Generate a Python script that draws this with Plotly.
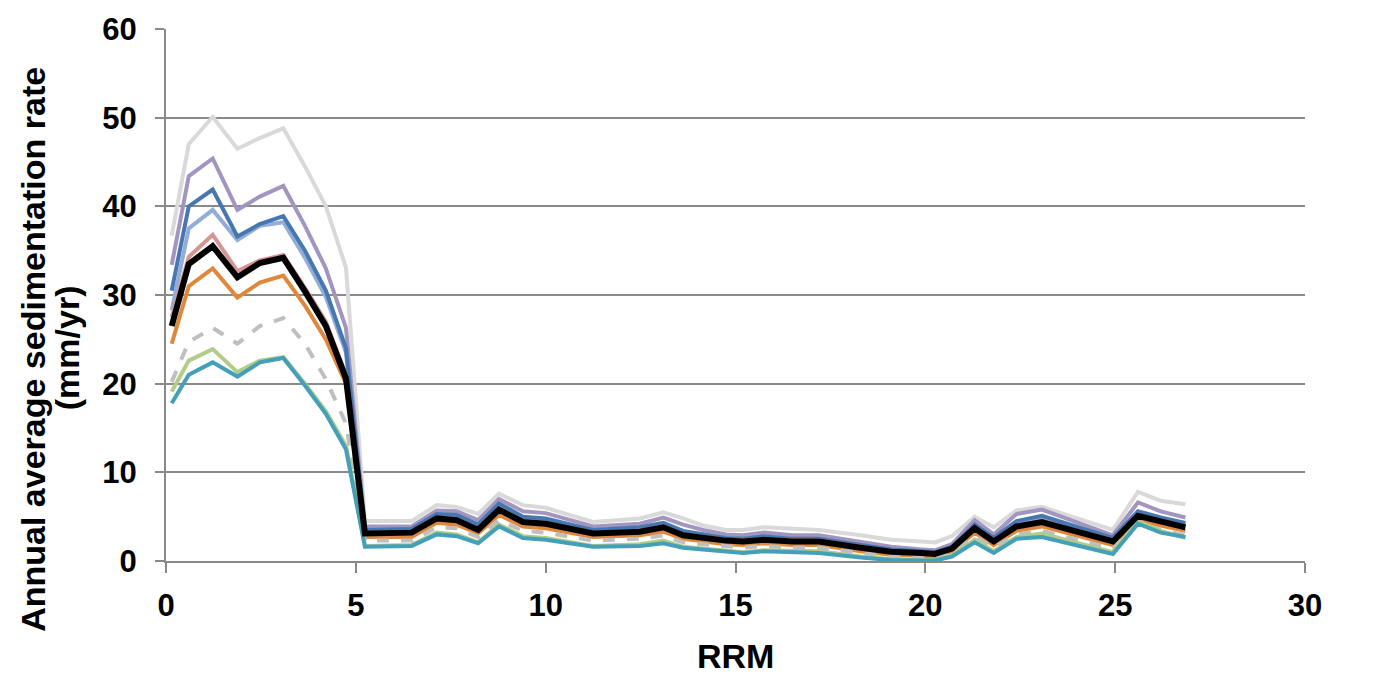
import plotly.graph_objects as go

# River mile (RRM) stations
rrm = [0.15, 0.6, 1.23, 1.88, 2.47, 3.09, 3.66, 4.21, 4.74, 5.24,
       6.47, 7.13, 7.66, 8.22, 8.77, 9.4, 10.0, 11.25, 12.48, 13.1,
       13.62, 14.15, 14.75, 15.2, 15.75, 16.5, 17.2, 18.3, 19.1, 19.9,
       20.25, 20.7, 21.3, 21.8, 22.4, 23.07, 24.94, 25.6, 26.2, 26.85]

# Annual average sedimentation rate (mm/yr) per scenario
rate_gray = [36.7, 47.0, 50.1, 46.5, 47.7, 48.8, 44.5, 40.0, 33.1, 4.5,
             4.5, 6.3, 6.1, 5.3, 7.6, 6.3, 6.0, 4.4, 4.8, 5.5,
             4.8, 4.0, 3.5, 3.5, 3.8, 3.6, 3.5, 2.9, 2.4, 2.2,
             2.1, 2.8, 5.0, 3.8, 5.7, 6.1, 3.5, 7.8, 6.8, 6.4]
rate_purple = [33.4, 43.4, 45.4, 39.6, 41.1, 42.3, 37.8, 33.0, 26.3, 3.9,
               3.9, 5.7, 5.6, 4.6, 7.0, 5.6, 5.4, 3.9, 4.2, 4.9,
               4.1, 3.5, 3.0, 2.9, 3.2, 2.9, 2.9, 2.2, 1.6, 1.3,
               1.2, 1.9, 4.6, 3.0, 5.3, 5.8, 2.9, 6.6, 5.6, 4.9]
rate_lightblue = [28.3, 37.5, 39.6, 36.2, 37.8, 38.2, 34.2, 29.8, 23.5, 3.4,
                  3.5, 5.2, 5.0, 4.0, 6.3, 4.9, 4.7, 3.4, 3.6, 4.2,
                  3.3, 2.9, 2.5, 2.4, 2.7, 2.4, 2.4, 1.7, 1.2, 1.0,
                  0.9, 1.5, 4.0, 2.5, 4.3, 4.9, 2.5, 5.4, 4.7, 4.1]
rate_blue = [30.5, 40.0, 41.9, 36.6, 38.0, 38.9, 35.0, 30.5, 24.0, 3.5,
             3.6, 5.3, 5.2, 4.1, 6.5, 5.0, 4.8, 3.5, 3.8, 4.3,
             3.4, 3.0, 2.6, 2.5, 2.8, 2.5, 2.5, 1.8, 1.3, 1.1,
             1.0, 1.6, 4.1, 2.6, 4.5, 5.1, 2.6, 5.6, 4.9, 4.3]
rate_pink = [27.5, 34.3, 36.8, 32.7, 33.9, 34.5, 30.8, 27.0, 21.0, 3.2,
             3.3, 4.9, 4.7, 3.6, 5.9, 4.5, 4.3, 3.2, 3.4, 3.9,
             3.0, 2.7, 2.4, 2.3, 2.5, 2.3, 2.3, 1.6, 1.1, 0.9,
             0.8, 1.4, 3.8, 2.3, 4.0, 4.5, 2.3, 5.2, 4.5, 3.9]
rate_orange = [24.5, 31.0, 33.0, 29.7, 31.4, 32.2, 28.8, 25.0, 20.0, 2.7,
               2.7, 4.3, 4.1, 3.1, 5.2, 3.9, 3.7, 2.7, 2.9, 3.3,
               2.5, 2.2, 1.9, 1.8, 2.0, 1.8, 1.8, 1.1, 0.7, 0.6,
               0.5, 1.1, 3.2, 1.8, 3.4, 3.9, 1.8, 4.7, 4.0, 3.4]
rate_dashed = [20.2, 24.7, 26.3, 24.5, 26.5, 27.4, 24.5, 20.5, 15.5, 2.3,
               2.3, 3.8, 3.7, 2.7, 4.6, 3.4, 3.2, 2.3, 2.5, 2.9,
               2.1, 1.9, 1.6, 1.5, 1.7, 1.5, 1.5, 0.9, 0.5, 0.4,
               0.3, 0.9, 2.8, 1.5, 3.0, 3.4, 1.4, 4.3, 3.5, 2.9]
rate_green = [19.1, 22.6, 23.9, 21.3, 22.6, 23.0, 20.0, 16.9, 13.0, 1.7,
              1.8, 3.2, 3.0, 2.1, 4.1, 2.8, 2.6, 1.7, 1.9, 2.3,
              1.6, 1.4, 1.1, 1.0, 1.2, 1.1, 1.1, 0.5, 0.2, 0.1,
              0.1, 0.6, 2.4, 1.1, 2.7, 3.1, 1.0, 4.5, 3.4, 2.6]
rate_teal = [17.8, 21.0, 22.4, 20.8, 22.4, 22.9, 19.8, 16.6, 12.6, 1.6,
             1.7, 3.0, 2.8, 2.0, 3.9, 2.6, 2.4, 1.6, 1.7, 2.0,
             1.5, 1.3, 1.0, 0.9, 1.1, 1.0, 0.9, 0.4, 0.1, 0.05,
             0.05, 0.5, 2.1, 0.9, 2.5, 2.7, 0.8, 4.2, 3.2, 2.7]
rate_mean = [26.5, 33.5, 35.5, 32.0, 33.6, 34.2, 30.4, 26.5, 20.6, 3.1,
             3.2, 4.8, 4.6, 3.5, 5.8, 4.4, 4.2, 3.1, 3.3, 3.8,
             2.9, 2.6, 2.3, 2.2, 2.4, 2.2, 2.2, 1.5, 1.05, 0.9,
             0.8, 1.4, 3.7, 2.2, 3.9, 4.4, 2.2, 5.1, 4.4, 3.8]

series = [
    (rate_gray, "#d9d9d9", 4, "solid"),
    (rate_purple, "#a295c0", 4, "solid"),
    (rate_lightblue, "#93add8", 4, "solid"),
    (rate_blue, "#4677b0", 4, "solid"),
    (rate_pink, "#d69593", 4, "solid"),
    (rate_orange, "#e0873b", 4, "solid"),
    (rate_dashed, "#bfbfbf", 4, "dash"),
    (rate_green, "#b2cc8a", 4, "solid"),
    (rate_teal, "#44a0b8", 4, "solid"),
    (rate_mean, "#000000", 6, "solid"),
]

fig = go.Figure()
for vals, color, width, dash in series:
    fig.add_trace(go.Scatter(
        x=rrm, y=vals, mode="lines",
        line=dict(color=color, width=width, dash=dash),
        showlegend=False,
    ))

font_main = "Liberation Sans, Arial, sans-serif"
grid_col = "#898989"
tick_font = dict(size=31, family=font_main, weight="bold", color="black")
title_font = dict(size=34, family=font_main, weight="bold", color="black")

fig.update_layout(
    width=1382, height=674,
    margin=dict(l=166, r=77, t=22, b=113),
    paper_bgcolor="white", plot_bgcolor="white",
    font=dict(family=font_main, color="black"),
)
fig.update_xaxes(
    range=[0, 30], tickvals=[0, 5, 10, 15, 20, 25, 30],
    showgrid=False, zeroline=False,
    showline=True, linecolor=grid_col, linewidth=2,
    ticks="outside", ticklen=10, tickwidth=2, tickcolor=grid_col,
    tickfont=tick_font, ticklabelstandoff=6,
)
fig.update_yaxes(
    range=[0, 60], tickvals=[0, 10, 20, 30, 40, 50, 60],
    showgrid=True, gridcolor=grid_col, gridwidth=2, zeroline=False,
    showline=True, linecolor=grid_col, linewidth=2,
    ticks="outside", ticklen=9, tickwidth=2, tickcolor=grid_col,
    tickfont=tick_font, ticklabelstandoff=12,
)

# Axis titles placed as annotations for tight control of position
fig.add_annotation(
    text="Annual average sedimentation rate", textangle=-90,
    xref="paper", yref="paper", x=0, y=0.397,
    xanchor="center", yanchor="middle", xshift=-133,
    showarrow=False, font=title_font,
)
fig.add_annotation(
    text="(mm/yr)", textangle=-90,
    xref="paper", yref="paper", x=0, y=0.40,
    xanchor="center", yanchor="middle", xshift=-99,
    showarrow=False, font=title_font,
)
fig.add_annotation(
    text="RRM",
    xref="paper", yref="paper", x=0.5, y=-0.179,
    xanchor="center", yanchor="middle",
    showarrow=False, font=title_font,
)

fig.write_html("out.html")
